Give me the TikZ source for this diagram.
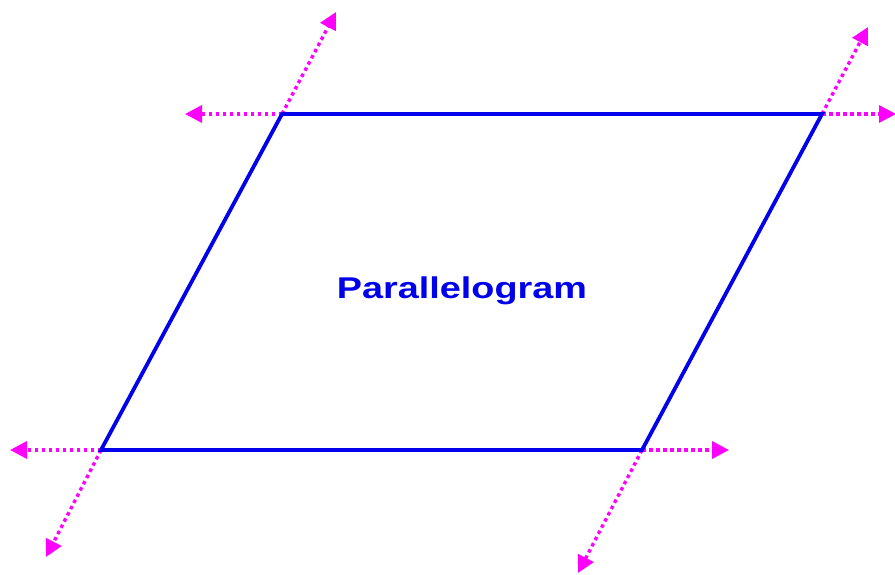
\documentclass[tikz,border=0pt]{standalone}
\usepackage{fontspec}
\setmainfont{Liberation Sans}
\usetikzlibrary{arrows.meta}
\definecolor{edgeblue}{RGB}{0,0,235}
\definecolor{extmag}{RGB}{255,0,255}
\tikzset{
  side/.style={draw=edgeblue, line width=3.8pt, line join=miter},
  ext/.style={draw=extmag, line width=3.4pt, dash pattern=on 3.5pt off 3.5pt,
    -{Triangle[length=17pt,width=17pt]}},
  lbl/.style={text=edgeblue, font=\bfseries\fontsize{30}{30}\selectfont}
}
\begin{document}
\begin{tikzpicture}[x=1pt,y=-1pt]
\useasboundingbox (0,0) rectangle (895,574);
\coordinate (A) at (101,450);
\coordinate (B) at (282,114);
\coordinate (C) at (822,114);
\coordinate (D) at (642,450);
\coordinate (Bl) at (185,114);
\coordinate (Bu) at (336,12);
\coordinate (Cr) at (896,114);
\coordinate (Cu) at (868,27);
\coordinate (Al) at (10,450);
\coordinate (Ad) at (46,557);
\coordinate (Dr) at (729,450);
\coordinate (Dd) at (578,573);
\draw[ext] (B) -- (Bl);
\draw[ext] (B) -- (Bu);
\draw[ext] (C) -- (Cr);
\draw[ext] (C) -- (Cu);
\draw[ext] (A) -- (Al);
\draw[ext] (A) -- (Ad);
\draw[ext] (D) -- (Dr);
\draw[ext] (D) -- (Dd);
\draw[side] (A) -- (B) -- (C) -- (D) -- cycle;
\node[lbl, anchor=base] (t) at (462,298) {\scalebox{1.26}[1]{Parallelogram}};
\end{tikzpicture}
\end{document}
